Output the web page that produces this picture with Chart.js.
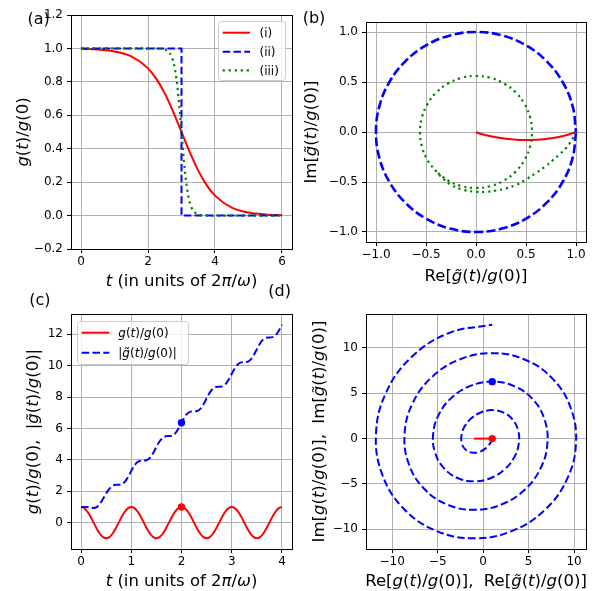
<!DOCTYPE html>
<html><head><meta charset="utf-8">
<script src="https://cdn.jsdelivr.net/npm/chart.js@4.4.0/dist/chart.umd.min.js"></script>
<style>
html,body{margin:0;padding:0;background:#fff;}
#wrap{position:relative;width:598px;height:591px;overflow:hidden;background:#fff;}
canvas{position:absolute;left:0;top:0;}
</style></head><body>
<div id="wrap">
<canvas id="ca" width="598" height="591" style="width:598px;height:591px"></canvas>
<canvas id="cb" width="598" height="591" style="width:598px;height:591px"></canvas>
<canvas id="cc" width="598" height="591" style="width:598px;height:591px"></canvas>
<canvas id="cd" width="598" height="591" style="width:598px;height:591px"></canvas>
</div>
<script>
// ---------- Panel (a): pulse shapes g(t)/g(0) ----------
const A_T_I   = [0,0.5,1,1.5,2,2.25,2.5,2.75,3,3.25,3.5,3.75,4,4.5,5,5.5,6];
const A_G_I   = [0.9975,0.9933,0.982,0.9526,0.8808,0.8176,0.7311,0.6225,0.5,0.3775,0.2689,0.1824,0.1192,0.0474,0.018,0.0067,0.0025];
const A_T_II  = [0,3,3,6];
const A_G_II  = [1,1,0,0];
const A_T_III = [0,1,2,2.5,2.6,2.7,2.8,2.9,3,3.1,3.2,3.3,3.4,3.5,3.6,4,5,6];
const A_G_III = [1,1,1,0.9933,0.982,0.9526,0.8808,0.7311,0.5,0.2689,0.1192,0.0474,0.018,0.0067,0.0025,0,0,0];
const A_LABELS = ['(i)','(ii)','(iii)'];
const A_XTICKS = [0,2,4,6];
const A_YTICKS = [-0.2,0,0.2,0.4,0.6,0.8,1,1.2];

// ---------- Panel (b): complex plane of g~(t)/g(0) ----------
const B_RE_I  = [1,0.96,0.9,0.8,0.7,0.6,0.5,0.4,0.3,0.2,0.1,0.05,0.02,0];
const B_IM_I  = [0,-0.014,-0.033,-0.055,-0.07,-0.078,-0.08,-0.077,-0.067,-0.052,-0.032,-0.02,-0.01,0];
const B_RE_II = [1,0.966,0.866,0.707,0.5,0.259,0,-0.259,-0.5,-0.707,-0.866,-0.966,-1,-0.966,-0.866,-0.707,-0.5,-0.259,0,0.259,0.5,0.707,0.866,0.966,1];
const B_IM_II = [0,-0.259,-0.5,-0.707,-0.866,-0.966,-1,-0.966,-0.866,-0.707,-0.5,-0.259,0,0.259,0.5,0.707,0.866,0.966,1,0.966,0.866,0.707,0.5,0.259,0];
const B_RE_III = [1,0.985,0.97,0.94,0.9,0.84,0.77,0.7,0.6,0.5,0.4,0.3,0.2,0.1,0,-0.12,-0.24,-0.33,
  -0.396,-0.485,-0.541,-0.56,-0.541,-0.485,-0.396,-0.28,-0.145,0,0.145,0.28,0.396,0.485,0.541,0.56,0.541,0.485,0.396,0.28,0.145,0,-0.145,-0.28,-0.396];
const B_IM_III = [0,-0.03,-0.06,-0.11,-0.16,-0.22,-0.28,-0.34,-0.41,-0.475,-0.53,-0.565,-0.585,-0.598,-0.598,-0.58,-0.535,-0.465,
  -0.396,-0.28,-0.145,0,0.145,0.28,0.396,0.485,0.541,0.56,0.541,0.485,0.396,0.28,0.145,0,-0.145,-0.28,-0.396,-0.485,-0.541,-0.56,-0.541,-0.485,-0.396];
const B_TICKS = [-1,-0.5,0,0.5,1];

// ---------- Panel (c): g(t)/g(0) and |g~(t)/g(0)| vs t ----------
const C_T = [0,0.0625,0.125,0.1875,0.25,0.3125,0.375,0.4375,0.5,0.5625,0.625,0.6875,0.75,0.8125,0.875,0.9375,
  1,1.0625,1.125,1.1875,1.25,1.3125,1.375,1.4375,1.5,1.5625,1.625,1.6875,1.75,1.8125,1.875,1.9375,
  2,2.0625,2.125,2.1875,2.25,2.3125,2.375,2.4375,2.5,2.5625,2.625,2.6875,2.75,2.8125,2.875,2.9375,
  3,3.0625,3.125,3.1875,3.25,3.3125,3.375,3.4375,3.5,3.5625,3.625,3.6875,3.75,3.8125,3.875,3.9375,4];
const C_G = [1,0.924,0.707,0.383,0,-0.383,-0.707,-0.924,-1,-0.924,-0.707,-0.383,0,0.383,0.707,0.924,
  1,0.924,0.707,0.383,0,-0.383,-0.707,-0.924,-1,-0.924,-0.707,-0.383,0,0.383,0.707,0.924,
  1,0.924,0.707,0.383,0,-0.383,-0.707,-0.924,-1,-0.924,-0.707,-0.383,0,0.383,0.707,0.924,
  1,0.924,0.707,0.383,0,-0.383,-0.707,-0.924,-1,-0.924,-0.707,-0.383,0,0.383,0.707,0.924,1];
const C_ABS = [1,0.999,0.988,0.957,0.931,0.988,1.193,1.514,1.862,2.154,2.337,2.406,2.409,2.444,2.609,2.92,
  3.297,3.635,3.858,3.949,3.959,3.988,4.138,4.437,4.817,5.169,5.407,5.508,5.521,5.547,5.69,5.982,
  6.362,6.721,6.966,7.072,7.086,7.111,7.25,7.538,7.917,8.279,8.53,8.639,8.654,8.678,8.814,9.099,
  9.478,9.842,10.095,10.207,10.223,10.246,10.38,10.663,11.041,11.407,11.662,11.776,11.792,11.815,11.947,12.229,12.606];
const C_MARK_T = [2];
const C_MARK_G = [1];
const C_MARK_ABS = [6.362];
const C_XTICKS = [0,1,2,3,4];
const C_YTICKS = [0,2,4,6,8,10,12];

// ---------- Panel (d): complex plane of g(t)/g(0) and g~(t)/g(0) ----------
const D_RE_G = [-1,1];
const D_IM_G = [0,0];
const D_RE_GT = [1,0.999,0.985,0.927,0.785,0.524,0.126,-0.398,-1,-1.6,-2.096,-2.378,-2.356,-1.976,-1.237,-0.203,
  1,2.201,3.206,3.829,3.927,3.427,2.347,0.804,-1,-2.803,-4.317,-5.281,-5.498,-4.878,-3.458,-1.406,
  1,3.404,5.428,6.732,7.069,6.329,4.569,2.007,-1,-4.005,-6.538,-8.183,-8.639,-7.781,-5.68,-2.608,
  1,4.606,7.649,9.634,10.21,9.232,6.79,3.209,-1,-5.207,-8.76,-11.086,-11.781,-10.683,-7.901,-3.81,1];
const D_IM_GT = [0,-0.01,-0.076,-0.237,-0.5,-0.838,-1.187,-1.461,-1.571,-1.441,-1.035,-0.365,0.5,1.439,2.297,2.912,
  3.142,2.893,2.146,0.966,-0.5,-2.04,-3.408,-4.364,-4.712,-4.344,-3.256,-1.567,0.5,2.641,4.519,5.815,
  6.283,5.795,4.367,2.168,-0.5,-3.242,-5.63,-7.266,-7.854,-7.246,-5.478,-2.769,0.5,3.843,6.74,8.717,
  9.425,8.698,6.588,3.37,-0.5,-4.445,-7.851,-10.169,-10.996,-10.149,-7.699,-3.972,0.5,5.046,8.962,11.62,12.566];
const D_MARK_RE_G = [1];
const D_MARK_IM_G = [0];
const D_MARK_RE_GT = [1];
const D_MARK_IM_GT = [6.283];
const D_TICKS = [-10,-5,0,5,10];

// ---------- helpers ----------
const FONT = '"DejaVu Sans", "Liberation Sans", sans-serif';
const RED = '#ff0000', BLUE = '#0000ff', GREEN = '#008000';
function pts(xs, ys){ return xs.map((x,i)=>({x:x, y:ys[i]})); }
function fmt1(v){ return (v<0?'\u2212':'') + Math.abs(v).toFixed(1); }
function fmt0(v){ return (v<0?'\u2212':'') + Math.abs(Math.round(v)); }

function axis(min, max, ticks, fmt, isX){
  return {
    type:'linear', min:min, max:max,
    afterBuildTicks: s => { s.ticks = ticks.map(v=>({value:v})); },
    afterFit: s => { if (isX) s.height = 30; else s.width = 50; },
    ticks: { callback: v => fmt(v), font:{family:FONT, size:12}, color:'#000',
             padding: isX ? 2 : 4, autoSkip:false, maxRotation:0, minRotation:0 },
    grid: { color:'#b0b0b0', lineWidth:1, tickColor:'#000', tickLength:4, tickWidth:1, drawTicks:true },
    border: { display:false },
    title: { display:false }
  };
}
function line(data, color, opts){
  return Object.assign({ data:data, showLine:true, borderColor:color, backgroundColor:color,
    borderWidth:2, pointRadius:0, pointHoverRadius:0, fill:false, tension:0 }, opts||{});
}
function marker(data, color){
  return { data:data, showLine:false, pointRadius:3.7, pointHoverRadius:3.7, pointBorderWidth:0,
    backgroundColor:color, borderColor:color, order:0 };
}

function drawRich(ctx, segs, x, y, size, rot, align){
  ctx.save();
  ctx.translate(x, y);
  if (rot) ctx.rotate(-Math.PI/2);
  ctx.fillStyle = '#000'; ctx.textBaseline = 'alphabetic'; ctx.textAlign = 'left';
  const fontOf = s => (s[1] ? 'italic ' : '') + size + 'px ' + FONT;
  const ws = segs.map(s => { ctx.font = fontOf(s); return ctx.measureText(s[0]).width; });
  const tot = ws.reduce((p,c)=>p+c, 0);
  let cx = align === 'left' ? 0 : -tot/2;
  segs.forEach((s,i) => { ctx.font = fontOf(s); ctx.fillText(s[0], cx, 0); cx += ws[i]; });
  ctx.restore();
}

const T_LABEL = [['t',1],[' (in units of 2',0],['\u03c0',1],['/',0],['\u03c9',1],[')',0]];
const G_LABEL = [['g',1],['(',0],['t',1],[')/',0],['g',1],['(0)',0]];
const GT_ABS  = [['|',0],['g\u0303',1],['(',0],['t',1],[')/',0],['g',1],['(0)|',0]];
function wrap(pre, inner, post){ return [[pre,0]].concat(inner).concat([[post,0]]); }
const GT = [['g\u0303',1],['(',0],['t',1],[')/',0],['g',1],['(0)',0]];

const DECOR = {
  ca: { xt:T_LABEL, xb:286, yt:G_LABEL, yx:27.5, letter:'(a)', lx:27.5, ly:24,
        legend:{ x:218.5, y:21.5, w:67, h:59, l0:222.7, l1:250, tx:259.5,
                 rows:[{ds:0,y:32.7,segs:[[A_LABELS[0],0]]},{ds:1,y:51.7,segs:[[A_LABELS[1],0]]},{ds:2,y:70.4,segs:[[A_LABELS[2],0]]}] } },
  cb: { xt:wrap('Re[',GT,']'), xb:281, yt:wrap('Im[',GT,']'), yx:316, letter:'(b)', lx:302.7, ly:23 },
  cc: { xt:T_LABEL, xb:585.5, yt:G_LABEL.concat([[',  ',0]]).concat(GT_ABS), yx:38, letter:'(c)', lx:29.3, ly:305,
        legend:{ x:77.5, y:321.5, w:111, h:43, l0:81.7, l1:109.3, tx:118.3,
                 rows:[{ds:0,y:332.7,segs:G_LABEL},{ds:1,y:352.7,segs:GT_ABS}] } },
  cd: { xt:wrap('Re[',G_LABEL,'],  Re[').concat(GT).concat([[']',0]]),
        xb:585.5,
        yt:wrap('Im[',G_LABEL,'],  Im[').concat(GT).concat([[']',0]]),
        yx:324, letter:'(d)', lx:268.3, ly:296 }
};

function roundRect(ctx, x, y, w, h, r){
  ctx.beginPath();
  ctx.moveTo(x+r, y); ctx.lineTo(x+w-r, y); ctx.arcTo(x+w, y, x+w, y+r, r);
  ctx.lineTo(x+w, y+h-r); ctx.arcTo(x+w, y+h, x+w-r, y+h, r);
  ctx.lineTo(x+r, y+h); ctx.arcTo(x, y+h, x, y+h-r, r);
  ctx.lineTo(x, y+r); ctx.arcTo(x, y, x+r, y, r); ctx.closePath();
}

const decor = {
  id:'decor',
  afterDatasetsDraw(chart){
    const o = DECOR[chart.canvas.id]; if (!o) return;
    const ctx = chart.ctx, a = chart.chartArea;
    ctx.save();
    ctx.strokeStyle = '#000'; ctx.lineWidth = 1; ctx.setLineDash([]);
    ctx.strokeRect(Math.round(a.left)+0.5, Math.round(a.top)+0.5, Math.round(a.right-a.left), Math.round(a.bottom-a.top));
    ctx.restore();
    drawRich(ctx, o.xt, (a.left+a.right)/2, o.xb, 16.5, false);
    drawRich(ctx, o.yt, o.yx, (a.top+a.bottom)/2, 16.5, true);
    ctx.save();
    ctx.font = '16px ' + FONT; ctx.fillStyle = '#000'; ctx.textAlign = 'left'; ctx.textBaseline = 'alphabetic';
    ctx.fillText(o.letter, o.lx, o.ly);
    ctx.restore();
    if (o.legend){
      const L = o.legend;
      ctx.save();
      roundRect(ctx, L.x, L.y, L.w, L.h, 3);
      ctx.fillStyle = 'rgba(255,255,255,0.8)'; ctx.fill();
      ctx.strokeStyle = '#cccccc'; ctx.lineWidth = 1; ctx.stroke();
      L.rows.forEach(r => {
        const ds = chart.data.datasets[r.ds];
        ctx.save();
        ctx.strokeStyle = ds.borderColor; ctx.lineWidth = ds.borderWidth;
        ctx.setLineDash(ds.borderDash || []);
        ctx.beginPath(); ctx.moveTo(L.l0, r.y); ctx.lineTo(L.l1, r.y); ctx.stroke();
        ctx.restore();
        drawRich(ctx, r.segs, L.tx, r.y + 4.3, 12, false, 'left');
      });
      ctx.restore();
    }
  }
};

function make(id, box, scales, datasets){
  const pad = { left: box.L - 50, top: box.T, right: 598 - box.R, bottom: 591 - box.B - 30 };
  return new Chart(document.getElementById(id), {
    type:'scatter',
    data:{ datasets: datasets },
    options:{
      responsive:false, animation:false, devicePixelRatio:1, events:[],
      layout:{ padding: pad },
      plugins:{ legend:{display:false}, tooltip:{enabled:false} },
      scales: scales
    },
    plugins:[decor]
  });
}

const DASH = [7.5, 3.3];
const DOT = [2.2, 3.8];

make('ca', {L:71,T:15,R:292,B:249},
  { x: axis(-0.3, 6.3, A_XTICKS, fmt0, true), y: axis(-0.2, 1.2, A_YTICKS, fmt1, false) },
  [ line(pts(A_T_I, A_G_I), RED, {label:A_LABELS[0], cubicInterpolationMode:'monotone', order:3}),
    line(pts(A_T_II, A_G_II), BLUE, {label:A_LABELS[1], borderDash:DASH, order:2}),
    line(pts(A_T_III, A_G_III), GREEN, {label:A_LABELS[2], borderDash:DOT, borderWidth:2.2, cubicInterpolationMode:'monotone', order:1}) ]);

make('cb', {L:366,T:22,R:586,B:242},
  { x: axis(-1.1, 1.1, B_TICKS, fmt1, true), y: axis(-1.1, 1.1, B_TICKS, fmt1, false) },
  [ line(pts(B_RE_I, B_IM_I), RED, {label:A_LABELS[0], tension:0.4, order:3}),
    line(pts(B_RE_II, B_IM_II), BLUE, {label:A_LABELS[1], borderDash:[9,3.5], borderWidth:2.6, tension:0.4, order:2}),
    line(pts(B_RE_III, B_IM_III), GREEN, {label:A_LABELS[2], borderDash:DOT, borderWidth:2.2, tension:0.4, order:1}) ]);

make('cc', {L:71,T:314,R:292,B:549},
  { x: axis(-0.2, 4.2, C_XTICKS, fmt0, true), y: axis(-1.68, 13.29, C_YTICKS, fmt0, false) },
  [ line(pts(C_T, C_G), RED, {label:'g(t)/g(0)', cubicInterpolationMode:'monotone', order:3}),
    line(pts(C_T, C_ABS), BLUE, {label:'|g\u0303(t)/g(0)|', borderDash:DASH, cubicInterpolationMode:'monotone', order:2}),
    marker(pts(C_MARK_T, C_MARK_G), RED),
    marker(pts(C_MARK_T, C_MARK_ABS), BLUE) ]);

make('cd', {L:366,T:314,R:586,B:549},
  { x: axis(-12.88, 11.31, D_TICKS, fmt0, true), y: axis(-12.17, 13.74, D_TICKS, fmt0, false) },
  [ line(pts(D_RE_G, D_IM_G), RED, {label:'g(t)/g(0)', order:3}),
    line(pts(D_RE_GT, D_IM_GT), BLUE, {label:'g\u0303(t)/g(0)', borderDash:DASH, tension:0.4, order:2}),
    marker(pts(D_MARK_RE_G, D_MARK_IM_G), RED),
    marker(pts(D_MARK_RE_GT, D_MARK_IM_GT), BLUE) ]);
</script>
</body></html>
